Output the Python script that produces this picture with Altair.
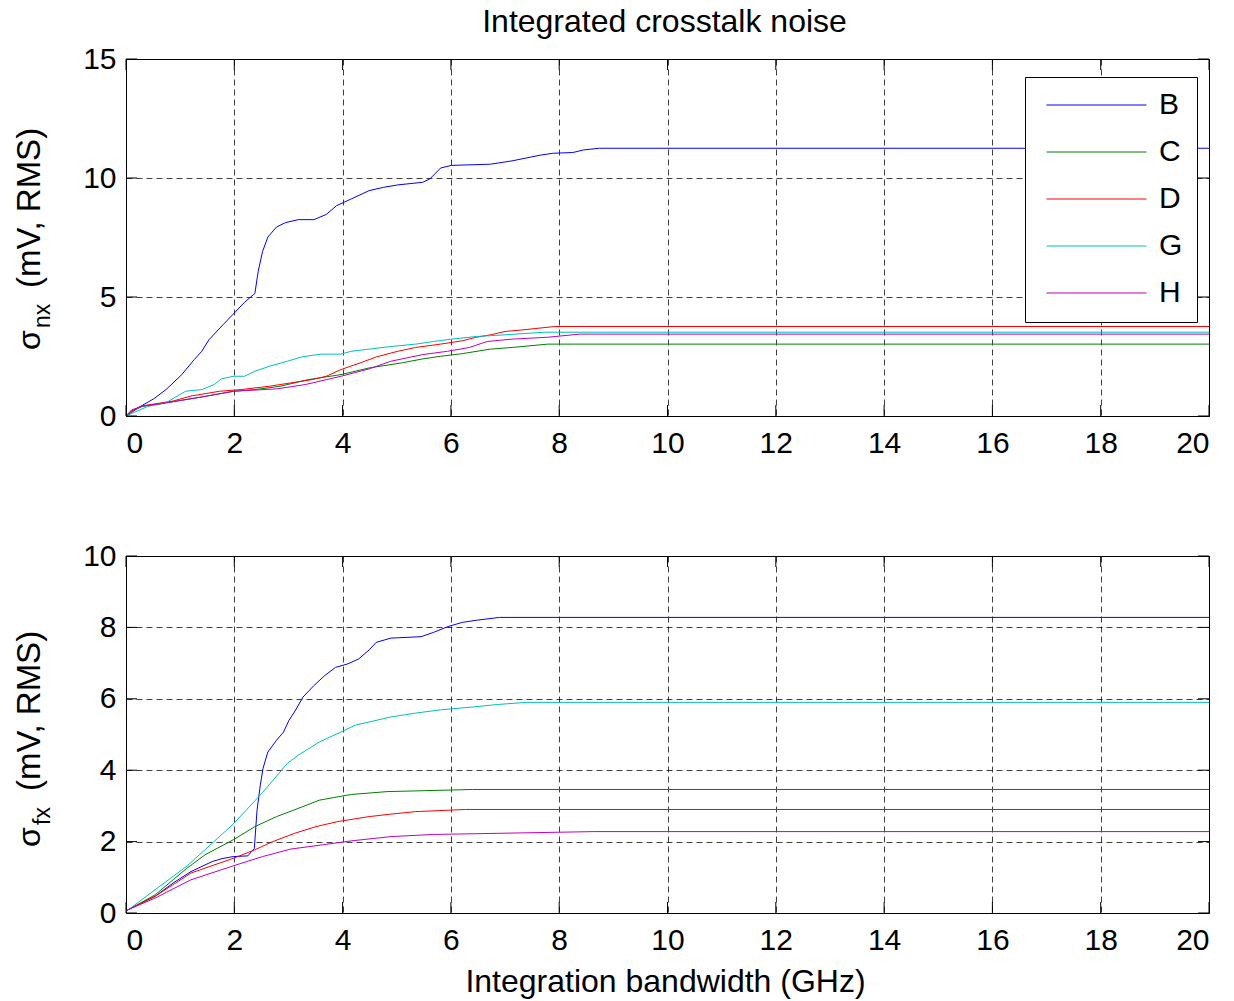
import altair as alt
import pandas as pd

F = "Liberation Sans"
series = ["B", "C", "D", "G", "H"]
colors = ["#0000ff", "#008000", "#ff0000", "#00bfbf", "#bf00bf"]

x_ticks = [0, 2, 4, 6, 8, 10, 12, 14, 16, 18, 20]
top_y_ticks = [0, 5, 10, 15]
bot_y_ticks = [0, 2, 4, 6, 8, 10]

chart_title = "Integrated crosstalk noise"
x_title = "Integration bandwidth (GHz)"
y_unit = "(mV, RMS)"

# ---------- top panel (sigma_nx) ----------
top_B_x = [0, 0.1, 0.28, 0.51, 0.74, 1.03, 1.26, 1.40, 1.53, 1.79, 1.98, 2.19, 2.38, 2.44, 2.52, 2.62,
           2.78, 2.94, 3.18, 3.47, 3.70, 3.89, 4.16, 4.49, 4.76, 5.02, 5.48, 5.61, 5.81, 6.01, 6.73,
           7.13, 7.39, 7.65, 7.89, 8.25, 8.45, 8.74, 20]
top_B_y = [0, 0.15, 0.42, 0.72, 1.11, 1.74, 2.37, 2.72, 3.2, 3.83, 4.28, 4.78, 5.15, 6.06, 6.9, 7.52,
           7.94, 8.12, 8.25, 8.25, 8.47, 8.84, 9.12, 9.47, 9.61, 9.71, 9.82, 9.96, 10.42, 10.53, 10.58,
           10.72, 10.84, 10.96, 11.04, 11.07, 11.18, 11.25, 11.25]
top_C_x = [0, 0.1, 0.3, 0.6, 1.0, 1.4, 1.99, 2.38, 2.85, 3.37, 3.97, 4.49, 5.09, 5.48, 5.81, 6.21,
           6.73, 7.13, 7.79, 20]
top_C_y = [0, 0.2, 0.4, 0.5, 0.65, 0.8, 1.04, 1.11, 1.25, 1.53, 1.74, 2.02, 2.23, 2.40, 2.51, 2.62,
           2.81, 2.88, 3.02, 3.02]
top_D_x = [0, 0.1, 0.28, 0.87, 1.20, 1.73, 2.12, 2.65, 3.04, 3.44, 3.70, 3.97, 4.36, 4.62, 5.02,
           5.35, 5.81, 6.21, 6.47, 6.73, 7.0, 7.33, 7.92, 20]
top_D_y = [0, 0.2, 0.42, 0.63, 0.84, 1.04, 1.11, 1.25, 1.39, 1.53, 1.67, 1.95, 2.26, 2.48, 2.72,
           2.88, 3.02, 3.16, 3.31, 3.41, 3.55, 3.62, 3.76, 3.76]
top_G_x = [0, 0.15, 0.4, 0.74, 1.10, 1.40, 1.63, 1.76, 1.99, 2.19, 2.38, 2.65, 2.98, 3.24, 3.60,
           3.97, 4.16, 4.49, 4.89, 5.35, 5.68, 6.01, 6.47, 7.0, 7.72, 20]
top_G_y = [0, 0.15, 0.4, 0.56, 1.04, 1.11, 1.32, 1.56, 1.67, 1.67, 1.88, 2.09, 2.30, 2.48, 2.60,
           2.60, 2.72, 2.81, 2.92, 3.02, 3.13, 3.23, 3.34, 3.41, 3.52, 3.52]
top_H_x = [0, 0.1, 0.3, 0.6, 1.0, 1.4, 1.99, 2.78, 3.31, 3.97, 4.49, 4.89, 5.48, 5.94, 6.34, 6.67,
           7.13, 7.79, 8.38, 20]
top_H_y = [0, 0.25, 0.42, 0.5, 0.65, 0.8, 1.04, 1.14, 1.32, 1.67, 1.98, 2.30, 2.58, 2.72, 2.88, 3.13,
           3.23, 3.31, 3.44, 3.44]

# ---------- bottom panel (sigma_fx) ----------
bot_B_x = [0, 0.05, 0.54, 0.87, 1.20, 1.59, 1.79, 1.98, 2.25, 2.37, 2.42, 2.48, 2.53, 2.62, 2.78,
           2.91, 3.01, 3.11, 3.27, 3.47, 3.67, 3.87, 4.10, 4.30, 4.49, 4.62, 4.89, 5.45, 5.68, 5.94,
           6.21, 6.47, 6.90, 20]
bot_B_y = [0.05, 0.1, 0.47, 0.84, 1.16, 1.44, 1.53, 1.58, 1.60, 1.81, 2.88, 3.58, 4.05, 4.51, 4.84,
           5.07, 5.40, 5.63, 6.05, 6.37, 6.65, 6.88, 6.98, 7.12, 7.37, 7.58, 7.70, 7.74, 7.86, 8.02,
           8.14, 8.20, 8.28, 8.28]
bot_C_x = [0, 0.05, 0.54, 0.87, 1.13, 1.46, 1.98, 2.38, 2.78, 3.18, 3.57, 3.97, 4.16, 4.82, 6.40, 20]
bot_C_y = [0.05, 0.1, 0.51, 0.93, 1.26, 1.63, 2.05, 2.42, 2.70, 2.93, 3.16, 3.27, 3.32, 3.40, 3.46, 3.46]
bot_D_x = [0, 0.05, 0.54, 1.20, 1.98, 2.38, 2.71, 3.11, 3.51, 3.91, 4.49, 4.89, 5.35, 6.27, 20]
bot_D_y = [0.05, 0.1, 0.47, 1.12, 1.53, 1.77, 2.0, 2.23, 2.42, 2.56, 2.70, 2.77, 2.84, 2.90, 2.90]
bot_G_x = [0, 0.05, 1.13, 1.98, 2.52, 2.98, 3.18, 3.57, 3.97, 4.23, 4.49, 4.89, 5.35, 5.81, 6.40,
           6.86, 7.39, 20]
bot_G_y = [0.05, 0.1, 1.32, 2.49, 3.37, 4.19, 4.42, 4.79, 5.07, 5.26, 5.35, 5.49, 5.60, 5.69, 5.77,
           5.84, 5.90, 5.90]
bot_H_x = [0, 0.05, 0.54, 1.20, 1.98, 2.52, 3.04, 3.63, 4.16, 4.89, 5.68, 8.64, 20]
bot_H_y = [0.05, 0.1, 0.42, 0.93, 1.32, 1.58, 1.79, 1.91, 2.02, 2.14, 2.20, 2.28, 2.28]


def frame(pairs):
    rows = []
    for name, xs, ys in pairs:
        for i, (xv, yv) in enumerate(zip(xs, ys)):
            rows.append({"series": name, "x": xv, "y": yv, "i": i})
    return pd.DataFrame(rows)


top_df = frame([("B", top_B_x, top_B_y), ("C", top_C_x, top_C_y), ("D", top_D_x, top_D_y),
                ("G", top_G_x, top_G_y), ("H", top_H_x, top_H_y)])
bot_df = frame([("B", bot_B_x, bot_B_y), ("C", bot_C_x, bot_C_y), ("D", bot_D_x, bot_D_y),
                ("G", bot_G_x, bot_G_y), ("H", bot_H_x, bot_H_y)])

W, H = 1083, 357
TL = 11
TITLE_FS = 32
YT_FS = 33
SUB_FS = 23
TICK_FS = 30


def txt(s, fs, x, y, angle=None, align="left"):
    kw = dict(align=align, baseline="alphabetic", fontSize=fs, font=F, color="black")
    if angle is not None:
        kw["angle"] = angle
    return alt.Chart(pd.DataFrame({"t": [s]})).mark_text(**kw).encode(
        x=alt.value(x), y=alt.value(y), text="t:N")


def panel(df, yticks, ymax, sub, sub_w, show_legend):
    xenc = alt.X("x:Q", scale=alt.Scale(domain=[0, 20], nice=False),
                 axis=alt.Axis(values=x_ticks, title=None, labelPadding=12))
    yenc = alt.Y("y:Q", scale=alt.Scale(domain=[0, ymax], nice=False),
                 axis=alt.Axis(values=yticks, title=None, labelPadding=10))
    if show_legend:
        leg = alt.Legend(orient="none", legendX=899, legendY=18, title=None,
                         symbolType="stroke", symbolSize=10000, symbolStrokeWidth=1,
                         labelFontSize=30, labelFont=F, labelColor="black",
                         clipHeight=28, rowPadding=17, padding=14, symbolOffset=7,
                         labelOffset=12, strokeColor="black", fillColor="white")
    else:
        leg = None
    cenc = alt.Color("series:N", scale=alt.Scale(domain=series, range=colors), legend=leg)

    lines = alt.Chart(df).mark_line(strokeWidth=1, clip=True).encode(
        x=xenc, y=yenc, color=cenc, order="i:Q")

    xt = pd.DataFrame({"x": x_ticks})
    yt = pd.DataFrame({"y": yticks})
    rule = dict(color="black", strokeWidth=1)
    xb = alt.Chart(xt).mark_rule(**rule).encode(x="x:Q", y=alt.value(H), y2=alt.value(H - TL))
    xtp = alt.Chart(xt).mark_rule(**rule).encode(x="x:Q", y=alt.value(0), y2=alt.value(TL))
    yl = alt.Chart(yt).mark_rule(**rule).encode(y="y:Q", x=alt.value(0), x2=alt.value(TL))
    yr = alt.Chart(yt).mark_rule(**rule).encode(y="y:Q", x=alt.value(W - TL), x2=alt.value(W))

    base_x = -86
    sig = txt("σ", TITLE_FS, base_x, 291, angle=270)
    subt = txt(sub, SUB_FS, base_x + 10, 269, angle=270)
    rest = txt(y_unit, YT_FS, base_x, 269 - sub_w - 16, angle=270)

    return [lines, xb, xtp, yl, yr, sig, subt, rest]


top_layers = panel(top_df, top_y_ticks, 15, "nx", 24, True)
top_layers.append(txt(chart_title, TITLE_FS, W / 2 - 3, -27, align="center"))
top = alt.layer(*top_layers).properties(width=W, height=H)

bot_layers = panel(bot_df, bot_y_ticks, 10, "fx", 18, False)
bot_layers.append(txt(x_title, TITLE_FS, W / 2 - 2, H + 79, align="center"))
bottom = alt.layer(*bot_layers).properties(width=W, height=H)

chart = alt.vconcat(top, bottom, spacing=140, bounds="flush").resolve_scale(
    color="independent").resolve_legend(color="independent").properties(
    padding={"left": 5, "top": -3, "right": 2, "bottom": 0}
).configure(font=F).configure_view(stroke="black", strokeWidth=1).configure_axis(
    domain=False, ticks=False, grid=True, gridColor="black", gridDash=[6, 4], gridOpacity=0.75,
    gridWidth=1, labelFontSize=TICK_FS, labelColor="black", labelFont=F
)

chart.save("out.html", embed_options={"renderer": "svg", "actions": False})
